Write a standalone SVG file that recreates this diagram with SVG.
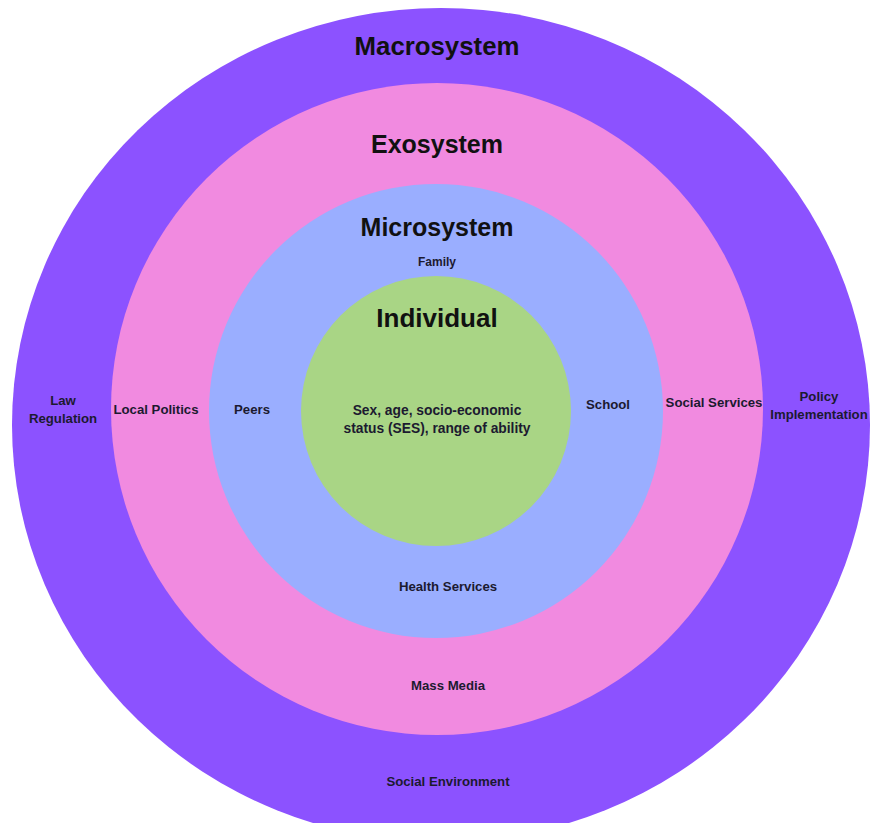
<svg xmlns="http://www.w3.org/2000/svg" width="870" height="823" viewBox="0 0 870 823">
<style>
.t{font-family:"Liberation Sans",Arial,sans-serif;font-weight:bold;fill:#111;text-anchor:middle}
.h{font-size:25px}
.l{font-size:13.2px;fill:#1c1a30}
.c{font-size:13.8px}
</style>
<rect width="870" height="823" fill="#ffffff"/>
<g id="macrosystem">
<ellipse cx="441" cy="425" rx="429" ry="417" fill="#8c52ff"/>
<text class="t h" x="437" y="55" style="font-size:25.8px">Macrosystem</text>
<text class="t l" x="63" y="405">Law</text>
<text class="t l" x="63" y="423">Regulation</text>
<text class="t l" x="819" y="401">Policy</text>
<text class="t l" x="819" y="419">Implementation</text>
<text class="t l" x="448" y="786">Social Environment</text>
</g>
<g id="exosystem">
<circle cx="437" cy="409" r="326" fill="#f18ae0"/>
<text class="t h" x="437" y="153">Exosystem</text>
<text class="t l" x="156" y="414">Local Politics</text>
<text class="t l" x="714" y="407">Social Services</text>
<text class="t l" x="448" y="690">Mass Media</text>
</g>
<g id="microsystem">
<circle cx="436" cy="411" r="227" fill="#9aaeff"/>
<text class="t h" x="437" y="236">Microsystem</text>
<text class="t l" x="437" y="266" style="font-size:12px">Family</text>
<text class="t l" x="252" y="414">Peers</text>
<text class="t l" x="608" y="409">School</text>
<text class="t l" x="448" y="591">Health Services</text>
</g>
<g id="individual">
<circle cx="436" cy="411" r="135" fill="#a9d585"/>
<text class="t" x="437" y="327" style="font-size:26px">Individual</text>
<text class="t l c" x="437" y="415">Sex, age, socio-economic</text>
<text class="t l c" x="437" y="433">status (SES), range of ability</text>
</g>
<g id="connectors"/>
</svg>
